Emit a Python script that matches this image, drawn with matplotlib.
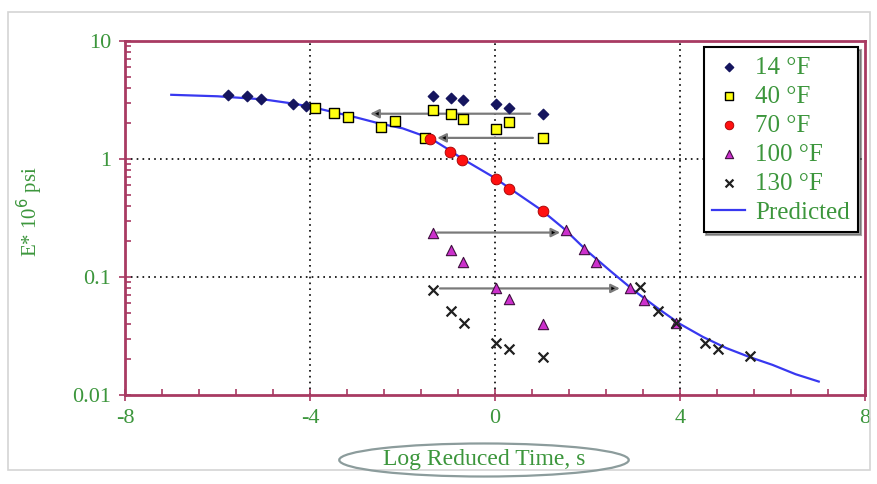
import numpy as np
import matplotlib.pyplot as plt
from matplotlib.patches import Rectangle

# log reduced time (s) and E* (10^6 psi)
t14 = [-5.77, -5.36, -5.06, -4.37, -4.09, -1.34, -0.95, -0.69, 0.02, 0.30, 1.04]
e14 = [3.5, 3.4, 3.2, 2.93, 2.8, 3.45, 3.3, 3.15, 2.9, 2.7, 2.42]

t40 = [-3.89, -3.48, -3.18, -2.46, -2.16, -1.34, -0.95, -0.69, -1.51, 0.02, 0.30, 1.04]
e40 = [2.68, 2.44, 2.27, 1.86, 2.1, 2.6, 2.4, 2.18, 1.52, 1.8, 2.07, 1.5]

t70 = [-1.41, -0.97, -0.71, 0.02, 0.30, 1.04]
e70 = [1.49, 1.15, 0.99, 0.68, 0.56, 0.36]

t100 = [-1.34, -0.95, -0.69, 0.02, 0.30, 1.04, 1.54, 1.92, 2.18, 2.92, 3.22, 3.91]
e100 = [0.238, 0.171, 0.133, 0.080, 0.065, 0.040, 0.248, 0.174, 0.135, 0.080, 0.064, 0.041]

t130 = [-1.34, -0.95, -0.67, 0.02, 0.30, 1.04, 3.14, 3.52, 3.91, 4.54, 4.82, 5.51]
e130 = [0.077, 0.052, 0.041, 0.0275, 0.0244, 0.0209, 0.082, 0.052, 0.041, 0.0275, 0.0247, 0.0213]

t_pred = [-7, -6, -5, -4.37, -4, -3.5, -3, -2.5, -2, -1.4, -1, -0.7, 0, 0.3, 1.0,
          1.5, 2.0, 2.5, 3.0, 3.5, 4.0, 4.5, 5.0, 5.5, 6.0, 6.5, 7.0]
e_pred = [3.5, 3.4, 3.2, 2.95, 2.78, 2.5, 2.25, 2.0, 1.82, 1.5, 1.2, 1.0, 0.69, 0.57, 0.37,
          0.255, 0.165, 0.112, 0.077, 0.055, 0.040, 0.031, 0.025, 0.021, 0.018, 0.015, 0.013]

# shift arrows: (y, x_start, x_end)
arrows = [(2.42, 0.76, -2.70), (1.51, 0.82, -1.25), (0.238, -1.25, 1.41), (0.08, -1.19, 2.70)]

green = '#3C963C'
spine = '#A83A62'

plt.rcParams['font.family'] = ['Liberation Serif', 'DejaVu Serif']

fig = plt.figure(figsize=(8.78, 4.84), dpi=100)
ax = fig.add_axes([125 / 878, 1 - 395 / 484, 740 / 878, 354 / 484])

# faint frame round the whole picture
fig.patches.append(Rectangle((8 / 878, 14 / 484), 862 / 878, 458 / 484, transform=fig.transFigure,
                             fill=False, edgecolor='#d4d4d4', linewidth=1.2))

ax.set_yscale('log')
ax.set_xlim(-8, 8)
ax.set_ylim(0.01, 10)

for y, x0, x1 in arrows:
    ax.annotate('', xy=(x1, y), xytext=(x0, y),
                arrowprops=dict(arrowstyle='-|>', lw=1.6, mutation_scale=13,
                                shrinkA=0, shrinkB=0, fc='black', ec='#7a7a7a'),
                zorder=2)

ax.plot(t_pred, e_pred, color='#3838F0', lw=1.6, label='Predicted', zorder=3)
ax.scatter(t14, e14, marker='D', s=28, color='#15155e', label='14 °F', zorder=4)
ax.scatter(t40, e40, marker='s', s=60, color='#FFFF10', edgecolor='black', linewidth=1.0,
           label='40 °F', zorder=4)
ax.scatter(t70, e70, marker='o', s=60, color='#FF1010', edgecolor='#a00000', linewidth=0.6,
           label='70 °F', zorder=5)
ax.scatter(t100, e100, marker='^', s=55, color='#CC30CC', edgecolor='#401040', linewidth=0.8,
           label='100 °F', zorder=4)
ax.scatter(t130, e130, marker='x', s=50, color='#202020', linewidth=1.6,
           label='130 °F', zorder=4)

# dotted grid
for x in [-4, 0, 4]:
    ax.axvline(x, color='black', ls=(0, (1, 2.5)), lw=1.2, zorder=1)
for y in [1, 0.1]:
    ax.axhline(y, color='black', ls=(0, (1, 2.5)), lw=1.2, zorder=1)

for s in ax.spines.values():
    s.set_color(spine)
    s.set_linewidth(2)

ax.set_xticks([-8, -4, 0, 4, 8])
ax.set_xticks(np.arange(-8, 8.01, 0.8), minor=True)
ax.set_yticks([0.01, 0.1, 1, 10])
ax.set_yticklabels(['0.01', '0.1', '1', '10'])
ax.set_xticklabels(['-8', '-4', '0', '4', '8'])
ax.tick_params(which='major', direction='inout', length=8, width=1.2, color=spine,
               labelcolor=green, labelsize=16, pad=6)
ax.tick_params(which='minor', direction='in', length=4, width=1.2, color=spine)

fig.text(30 / 878, 1 - 212 / 484, 'E* 10$^{6}$ psi', rotation=90, color=green,
         fontsize=15, ha='center', va='center')
fig.text(484 / 878, 1 - 460 / 484, 'Log Reduced Time, s', color=green, fontsize=17,
         ha='center', va='center',
         bbox=dict(boxstyle='ellipse,pad=0.05', fc='none', ec='#8c9c9c', lw=1.6))

handles, labels = ax.get_legend_handles_labels()
order = [1, 2, 3, 4, 5, 0]
leg = ax.legend([handles[i] for i in order], [labels[i] for i in order],
                loc='upper right', bbox_to_anchor=(0.991, 0.982), fontsize=18,
                frameon=True, fancybox=False, shadow=True, labelspacing=0.26,
                handlelength=1.3, handletextpad=0.4, borderpad=0.35, borderaxespad=0,
                markerscale=0.8)
leg.get_frame().set_edgecolor('black')
leg.get_frame().set_linewidth(1.5)
for t in leg.get_texts():
    t.set_color(green)

fig.savefig('out.png', dpi=100)
